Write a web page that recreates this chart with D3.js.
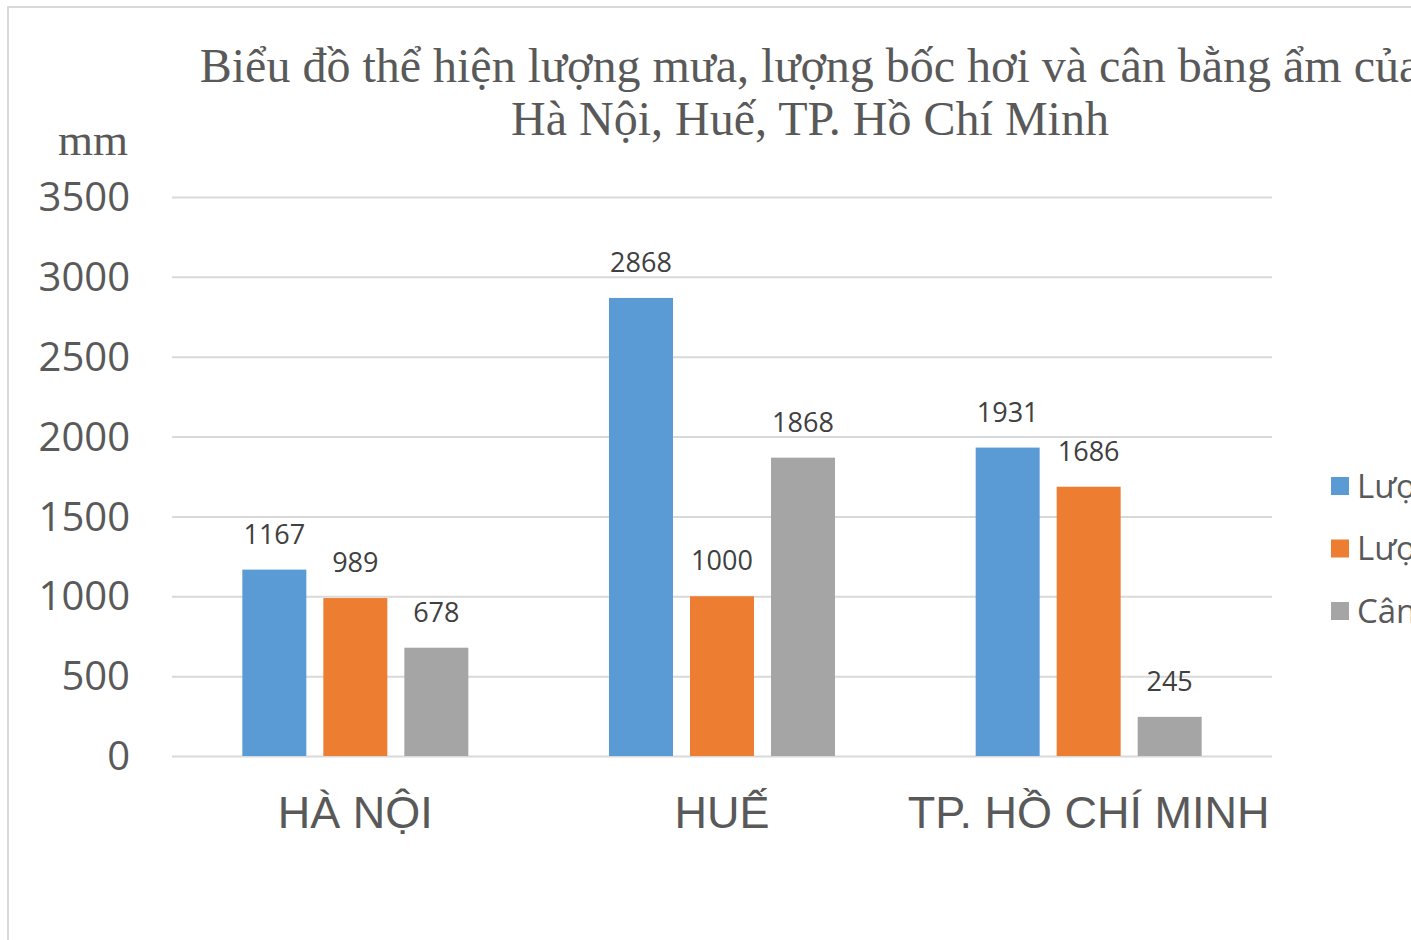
<!DOCTYPE html>
<html>
<head>
<meta charset="utf-8">
<script src="https://cdn.jsdelivr.net/npm/d3@7"></script>
<style>
  body { margin: 0; background: #fff; overflow: hidden; }
  svg { display: block; }
</style>
</head>
<body>
<div id="chart"></div>
<script>
// data
var cities = ["HÀ NỘI", "HUẾ", "TP. HỒ CHÍ MINH"];
var seriesNames = ["Lượng mưa", "Lượng bốc hơi", "Cân bằng ẩm"];
var rainfall = [1167, 2868, 1931];
var evaporation = [989, 1000, 1686];
var balance = [678, 1868, 245];
var yTicks = [0, 500, 1000, 1500, 2000, 2500, 3000, 3500];
var colors = ["#5b9bd5", "#ed7d31", "#a5a5a5"];

var W = 1411, H = 940;
var plot = { left: 172, right: 1272, top: 197, bottom: 756 };

var svg = d3.select("#chart").append("svg")
	.attr("width", W)
	.attr("height", H);

// chart frame (runs off the right and bottom of the window)
svg.append("rect")
	.attr("x", 8).attr("y", 7)
	.attr("width", 1500).attr("height", 1000)
	.attr("fill", "#fff")
	.attr("stroke", "#d9d9d9")
	.attr("stroke-width", 2);

var y = d3.scaleLinear()
	.domain([0, 3500])
	.range([plot.bottom, plot.top]);

var x0 = d3.scaleBand()
	.domain(cities)
	.range([plot.left, plot.right]);

// inner band for the three bars of a group
var groupW = 226;
var x1 = d3.scaleBand()
	.domain(seriesNames)
	.range([0, groupW])
	.paddingInner(0.21);

// grid lines
svg.append("g")
	.attr("transform", "translate(" + plot.left + ",0)")
	.call(d3.axisLeft(y).tickValues(yTicks).tickSize(-(plot.right - plot.left)).tickFormat(""))
	.call(function (g) {
		g.select(".domain").remove();
		g.selectAll("line").attr("stroke", "#d9d9d9").attr("stroke-width", 2);
	});

// y tick labels
svg.append("g")
	.attr("transform", "translate(130,0)")
	.call(d3.axisLeft(y).tickValues(yTicks).tickSize(0).tickPadding(0).tickFormat(d3.format("d")))
	.call(function (g) {
		g.select(".domain").remove();
		g.selectAll("text")
			.attr("fill", "#595959")
			.attr("font-family", "'Open Sans', sans-serif")
			.attr("font-size", 40)
			.attr("dy", "0.34em");
	});

// unit label
svg.append("text")
	.attr("x", 128).attr("y", 155)
	.attr("text-anchor", "end")
	.attr("font-family", "'Liberation Serif', 'Times New Roman', serif")
	.attr("font-size", 45)
	.attr("fill", "#595959")
	.text("mm");

// title (first line runs past the right edge, as in the source)
var title = svg.append("text")
	.attr("text-anchor", "middle")
	.attr("font-family", "'Liberation Serif', 'Times New Roman', serif")
	.attr("font-size", 48)
	.attr("fill", "#595959");
title.append("tspan").attr("x", 810).attr("y", 82)
	.text("Biểu đồ thể hiện lượng mưa, lượng bốc hơi và cân bằng ẩm của");
title.append("tspan").attr("x", 810).attr("y", 135)
	.text("Hà Nội, Huế, TP. Hồ Chí Minh");

var rows = cities.map(function (c, i) {
	return { city: c, values: [rainfall[i], evaporation[i], balance[i]] };
});

var groups = svg.selectAll(".grp")
	.data(rows)
	.enter().append("g")
	.attr("class", "grp")
	.attr("transform", function (d) {
		return "translate(" + (x0(d.city) + (x0.bandwidth() - groupW) / 2) + ",0)";
	});

groups.selectAll("rect")
	.data(function (d) { return d.values.map(function (v, j) { return { s: seriesNames[j], v: v, j: j }; }); })
	.enter().append("rect")
	.attr("x", function (d) { return x1(d.s); })
	.attr("y", function (d) { return y(d.v); })
	.attr("width", x1.bandwidth())
	.attr("height", function (d) { return y(0) - y(d.v); })
	.attr("fill", function (d) { return colors[d.j]; });

groups.selectAll(".lbl")
	.data(function (d) { return d.values.map(function (v, j) { return { s: seriesNames[j], v: v }; }); })
	.enter().append("text")
	.attr("class", "lbl")
	.attr("x", function (d) { return x1(d.s) + x1.bandwidth() / 2; })
	.attr("y", function (d) { return y(d.v) - 26; })
	.attr("text-anchor", "middle")
	.attr("font-family", "'Open Sans', sans-serif")
	.attr("font-size", 27)
	.attr("fill", "#404040")
	.text(function (d) { return d.v; });

// x category labels
svg.append("g")
	.attr("transform", "translate(0," + plot.bottom + ")")
	.call(d3.axisBottom(x0).tickSize(0).tickPadding(0))
	.call(function (g) {
		g.select(".domain").remove();
		g.selectAll("text")
			.attr("fill", "#595959")
			.attr("font-family", "'Liberation Sans', Arial, sans-serif")
			.attr("font-size", 45)
			.attr("dy", 72);
	});

// legend (clipped by the right edge, as in the source)
var legend = svg.selectAll(".leg")
	.data(seriesNames)
	.enter().append("g")
	.attr("class", "leg")
	.attr("transform", function (d, i) { return "translate(1331," + (477 + i * 62.5) + ")"; });
legend.append("rect")
	.attr("width", 18).attr("height", 18)
	.attr("fill", function (d, i) { return colors[i]; });
legend.append("text")
	.attr("x", 26).attr("y", 9)
	.attr("dy", "0.35em")
	.attr("font-family", "'Open Sans', sans-serif")
	.attr("font-size", 33)
	.attr("fill", "#595959")
	.text(function (d) { return d; });
</script>
</body>
</html>
